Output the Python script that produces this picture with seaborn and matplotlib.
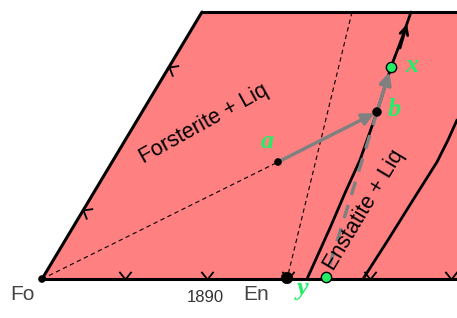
import matplotlib
matplotlib.use('Agg')
import matplotlib.pyplot as plt
import seaborn as sns
from matplotlib.path import Path
from matplotlib.markers import MarkerStyle
from matplotlib.transforms import Affine2D

# coordinates (pixel-like, y grows downwards)
field_x = [42, 202, 457, 457]
field_y = [279, 12, 12, 279]

left_x, left_y = [42, 202], [279, 12]
top_x, top_y = [202, 457], [12, 12]
base_x, base_y = [42, 457], [279, 279]

cot1_x = [307, 330, 345, 360, 377, 391, 402, 411]
cot1_y = [279, 228, 193, 160, 112, 67, 38, 12]
cot2_x = [363, 388, 413, 437, 448, 457]
cot2_y = [279, 240, 200, 162, 140, 120]

fo_tie_x, fo_tie_y = [42, 278], [279, 162]
en_tie_x, en_tie_y = [352, 287], [12, 279]

crys_x, crys_y = [377, 326], [112, 277]   # b -> y

base_ticks_x = [125, 207, 288, 370, 451]
side_ticks_x = [83, 169]
side_ticks_y = [210, 67]

dot_names = ['Fo', 'a', 'b', 'En']
dot_x = [42, 278, 377, 287]
dot_y = [279, 162, 112, 278]
dot_size = [25, 25, 40, 70]

green_names = ['x', 'y']
green_x = [391, 326]
green_y = [67, 277]

letter_names = ['a', 'b', 'x', 'y']
letter_x = [267, 388, 405, 303]
letter_y = [141, 110, 66, 289]

sns.set_style('white')
plt.rcParams['font.family'] = ['Liberation Sans', 'DejaVu Sans']

fig = plt.figure(figsize=(4.57, 3.18), dpi=100)
ax = fig.add_axes([0, 0, 1, 1])
ax.set_xlim(0, 457)
ax.set_ylim(318, 0)
ax.axis('off')

salmon = '#ff8080'
green = '#22ee66'

ax.fill(field_x, field_y, color=salmon, lw=0, zorder=0)

# thin tie lines
for xs, ys in [(fo_tie_x, fo_tie_y), (en_tie_x, en_tie_y)]:
    ax.plot(xs, ys, color='k', lw=0.8, ls=(0, (4, 3)), zorder=2)

# borders
for xs, ys in [(left_x, left_y), (top_x, top_y), (base_x, base_y)]:
    sns.lineplot(x=xs, y=ys, sort=False, estimator=None, color='k', lw=2.2, ax=ax, zorder=3)

# boundary curves
sns.lineplot(x=cot1_x, y=cot1_y, sort=False, estimator=None, color='k', lw=2, ax=ax, zorder=3)
sns.lineplot(x=cot2_x, y=cot2_y, sort=False, estimator=None, color='k', lw=2, ax=ax, zorder=3)
ax.annotate('', xy=(cot1_x[-2] + 5, 24), xytext=(cot1_x[-2] - 2, 48),
            arrowprops=dict(arrowstyle='->', color='k', lw=2, mutation_scale=14,
                            shrinkA=0, shrinkB=0), zorder=4)

# chevrons
vee = Path([(-0.8, 1), (0, 0), (0.8, 1)], [Path.MOVETO, Path.LINETO, Path.LINETO])
ax.plot(base_ticks_x, [base_y[0]] * len(base_ticks_x), ls='none',
        marker=MarkerStyle(vee), ms=11, mec='k', mew=1.3, mfc='none', zorder=4)
side_vee = MarkerStyle(vee, transform=Affine2D().rotate_deg(-120))
ax.plot(side_ticks_x, side_ticks_y, ls='none', marker=side_vee, ms=11,
        mec='k', mew=1.3, mfc='none', zorder=4)

# crystallisation path
ax.plot(crys_x, crys_y, color='gray', lw=2.5, ls=(0, (4, 3)), zorder=5)
ax.annotate('', xy=(dot_x[2], dot_y[2]), xytext=(dot_x[1], dot_y[1]),
            arrowprops=dict(arrowstyle='-|>', color='gray', lw=2.5, mutation_scale=18,
                            shrinkA=0, shrinkB=2), zorder=5)
ax.annotate('', xy=(green_x[0], green_y[0]), xytext=(dot_x[2], dot_y[2]),
            arrowprops=dict(arrowstyle='-|>', color='gray', lw=2.5, mutation_scale=18,
                            shrinkA=0, shrinkB=4), zorder=5)

sns.scatterplot(x=dot_x, y=dot_y, s=dot_size, color='k', edgecolor='k', ax=ax, zorder=6, legend=False)
sns.scatterplot(x=green_x, y=green_y, s=55, color=green, edgecolor='k', linewidth=1, ax=ax, zorder=7, legend=False)

for name, lx, ly in zip(letter_names, letter_x, letter_y):
    ax.text(lx, ly, name, color=green, fontsize=19, family='Liberation Serif',
            fontweight='bold', fontstyle='italic', ha='left' if name in 'bx' else 'center',
            va='center', zorder=8)

ax.text(204, 124, 'Forsterite + Liq', fontsize=15.5, rotation=29, rotation_mode='anchor',
        ha='center', va='center', color='k', zorder=8)
ax.text(364, 210, 'Enstatite + Liq', fontsize=15.5, rotation=59, rotation_mode='anchor',
        ha='center', va='center', color='k', zorder=8)

ax.text(22, 295, 'Fo', fontsize=15, color='#444444', ha='center', va='center')
ax.text(256, 295, 'En', fontsize=15, color='#444444', ha='center', va='center')
ax.text(205, 297, '1890', fontsize=12, color='#333333', ha='center', va='center')

fig.savefig('out.png', dpi=100)
